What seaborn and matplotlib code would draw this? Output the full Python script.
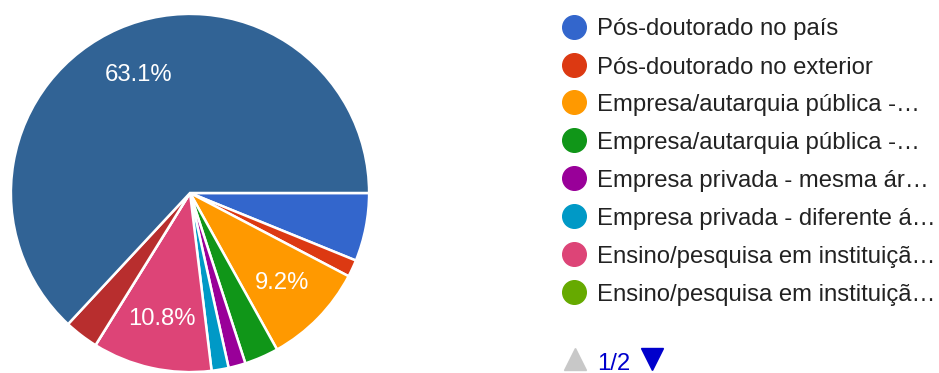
import matplotlib
matplotlib.use("Agg")
import matplotlib.pyplot as plt
from matplotlib.lines import Line2D
import seaborn as sns

# Responses per option (65 in total), in legend order
counts = [4, 1, 6, 2, 1, 1, 7, 0, 2, 41]
colors = ["#3366cc", "#dc3912", "#ff9900", "#109618", "#990099",
          "#0099c6", "#dd4477", "#66aa00", "#b82e2e", "#316395"]
legend_labels = [
    "Pós-doutorado no país",
    "Pós-doutorado no exterior",
    "Empresa/autarquia pública -…",
    "Empresa/autarquia pública -…",
    "Empresa privada - mesma ár…",
    "Empresa privada - diferente á…",
    "Ensino/pesquisa em instituiçã…",
    "Ensino/pesquisa em instituiçã…",
]
page_label = "1/2"

sns.set_theme(style="white")
plt.rcParams["font.family"] = ["Liberation Sans", "DejaVu Sans"]

W, H = 939, 373
fig = plt.figure(figsize=(W / 100, H / 100), dpi=100)

# Pie occupies a 360x360 px square centred at (190, 193)
cx, cy, r = 190, 193, 180
ax = fig.add_axes([(cx - r) / W, (H - cy - r) / H, 2 * r / W, 2 * r / H])


def pct(p):
    return f"{p:.1f}%" if p > 8 else ""


wedges, texts, autotexts = ax.pie(
    counts, colors=colors, startangle=0, counterclock=False, radius=1,
    autopct=pct, pctdistance=0.72,
    wedgeprops=dict(edgecolor="white", linewidth=1.8),
    textprops=dict(color="white", fontsize=17.2),
)
ax.set_xlim(-1.005, 1.005)
ax.set_ylim(-1.005, 1.005)
ax.axis("off")

# Legend (first page)
row_y = [26.5, 65, 102, 140, 178, 216, 254, 292]
for y, lab, col in zip(row_y, legend_labels, colors):
    fig.add_artist(Line2D([574 / W], [1 - y / H], marker="o", markersize=17,
                          color=col, transform=fig.transFigure, linestyle=""))
    fig.text(597 / W, 1 - y / H, lab, ha="left", va="center_baseline",
             fontsize=17.2, color="#222222")

# Pagination
py = 359
fig.add_artist(Line2D([574.5 / W], [1 - py / H], marker="^", markersize=16,
                      color="#c8c8c8", transform=fig.transFigure, linestyle=""))
fig.text(597 / W, 1 - 369.5 / H, page_label, ha="left", va="baseline",
         fontsize=17.2, color="#0000cc")
fig.add_artist(Line2D([651.5 / W], [1 - py / H], marker="v", markersize=16,
                      color="#0000cc", transform=fig.transFigure, linestyle=""))

fig.savefig("out.png", dpi=100)
